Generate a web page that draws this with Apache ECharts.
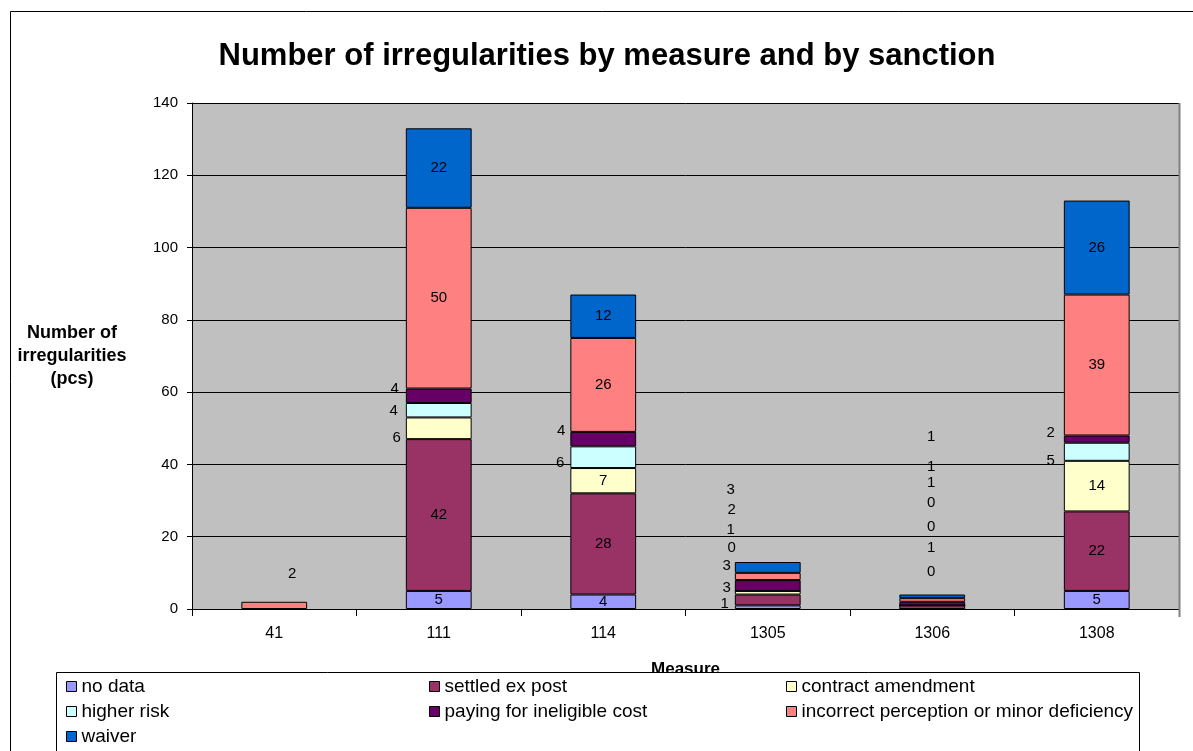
<!DOCTYPE html>
<html>
<head>
<meta charset="utf-8">
<script src="https://cdn.jsdelivr.net/npm/echarts@6/dist/echarts.min.js"></script>
<style>
  html, body { margin: 0; padding: 0; background: #fff; }
  #chart { width: 1193px; height: 751px; }
</style>
</head>
<body>
<div id="chart"></div>
<script>
// Measures on the category axis
const measures = ['41', '111', '114', '1305', '1306', '1308'];

// Irregularities per sanction type (pcs), one value per measure
const noData              = [null, 5, 4, 1, 0, 5];
const settledExPost       = [null, 42, 28, 3, 1, 22];
const contractAmendment   = [null, 6, 7, 1, 0, 14];
const higherRisk          = [null, 4, 6, 0, 0, 5];
const payingIneligible    = [null, 4, 4, 3, 1, 2];
const incorrectPerception = [2, 50, 26, 2, 1, 39];
const waiver              = [null, 22, 12, 3, 1, 26];

const yMax = 140;
const yStep = 20;

// Label nudges (px) for segments too thin to hold their own value
const labelNudge = {
  'no data':                 [null, null, null, [-43, -3], [-1, -37], null],
  'settled ex post':         [null, null, null, [-41, -12], [-1, -59], null],
  'contract amendment':      [null, [-42, 10], null, [-37, -63], [-1, -79], null],
  'higher risk':             [null, [-45, 1], [-43, 6], [-36, -43], [-1, -103], [-46, 9]],
  'paying for ineligible cost': [null, [-44, -7], [-42, -8], [-41, -20], [-1, -121], [-46, -6]],
  'incorrect perception or minor deficiency': [[18, -32], null, null, [-36, -67], [-1, -133], null],
  'waiver':                  [null, null, null, [-37, -78], [-1, -159], null]
};

const seriesDefs = [
  { name: 'no data', data: noData, color: '#9999FF' },
  { name: 'settled ex post', data: settledExPost, color: '#993366' },
  { name: 'contract amendment', data: contractAmendment, color: '#FFFFCC' },
  { name: 'higher risk', data: higherRisk, color: '#CCFFFF' },
  { name: 'paying for ineligible cost', data: payingIneligible, color: '#660066' },
  { name: 'incorrect perception or minor deficiency', data: incorrectPerception, color: '#FF8080' },
  { name: 'waiver', data: waiver, color: '#0066CC' }
];

const FONT = '"Liberation Sans", Arial, sans-serif';

const series = seriesDefs.map(def => ({
  name: def.name,
  type: 'bar',
  stack: 'total',
  barWidth: '40%',
  itemStyle: { color: def.color, borderColor: '#000', borderWidth: 1 },
  label: {
    show: true,
    position: 'inside',
    color: '#000',
    fontSize: 15,
    fontFamily: FONT
  },
  emphasis: { disabled: true },
  data: def.data.map((v, i) => {
    const nudge = labelNudge[def.name][i];
    if (v === null) return null;
    return nudge ? { value: v, label: { offset: nudge } } : v;
  })
}));

const legendCommon = {
  orient: 'vertical',
  top: 676,
  itemWidth: 10,
  itemHeight: 10,
  itemGap: 4,
  padding: 0,
  icon: 'rect',
  selectedMode: false,
  z: 10,
  itemStyle: { borderColor: '#000', borderWidth: 1 },
  textStyle: { fontSize: 19, lineHeight: 21, color: '#000', fontFamily: FONT }
};

const chart = echarts.init(document.getElementById('chart'), null, { renderer: 'canvas' });

chart.setOption({
  animation: false,
  backgroundColor: '#fff',
  textStyle: { fontFamily: FONT },
  grid: {
    left: 192, right: 14, top: 103, bottom: 142,
    show: true,
    backgroundColor: '#C0C0C0',
    borderWidth: 0
  },
  graphic: [
    {
      type: 'rect',
      z: 1,
      shape: { x: 10.5, y: 11.5, width: 1400, height: 1000 },
      style: { fill: null, stroke: '#000', lineWidth: 1 },
      silent: true
    },
    {
      type: 'line',
      z: 1,
      shape: { x1: 1179.5, y1: 103, x2: 1179.5, y2: 617 },
      style: { stroke: '#808080', lineWidth: 2 },
      silent: true
    },
    {
      type: 'text',
      z: 5,
      x: 607,
      y: 56,
      style: {
        text: 'Number of irregularities by measure and by sanction',
        fontSize: 31,
        fontWeight: 'bold',
        fontFamily: FONT,
        fill: '#000',
        textAlign: 'center',
        textVerticalAlign: 'middle'
      },
      silent: true
    },
    {
      type: 'rect',
      z: 3,
      shape: { x: 56.5, y: 672.5, width: 1083, height: 120 },
      style: { fill: '#fff', stroke: '#000', lineWidth: 1 },
      silent: true
    }
  ],
  legend: [
    Object.assign({}, legendCommon, { left: 66, data: ['no data', 'higher risk', 'waiver'] }),
    Object.assign({}, legendCommon, { left: 429, data: ['settled ex post', 'paying for ineligible cost'] }),
    Object.assign({}, legendCommon, { left: 786, data: ['contract amendment', 'incorrect perception or minor deficiency'] })
  ],
  xAxis: {
    type: 'category',
    data: measures,
    name: 'Measure',
    nameLocation: 'middle',
    nameGap: 52,
    nameTextStyle: { fontSize: 17, fontWeight: 'bold', color: '#000', fontFamily: FONT },
    axisLine: { lineStyle: { color: '#000', width: 1 } },
    axisTick: { show: true, length: 7, lineStyle: { color: '#000' } },
    axisLabel: { fontSize: 16, color: '#000', margin: 17, fontFamily: FONT },
    splitLine: { show: false }
  },
  yAxis: {
    type: 'value',
    min: 0,
    max: yMax,
    interval: yStep,
    name: 'Number of\nirregularities\n(pcs)',
    nameLocation: 'middle',
    nameRotate: 0,
    nameGap: 120,
    nameTextStyle: {
      fontSize: 18, fontWeight: 'bold', color: '#000', fontFamily: FONT,
      align: 'center', verticalAlign: 'middle', lineHeight: 23
    },
    axisLine: { show: true, lineStyle: { color: '#000', width: 1 } },
    axisTick: { show: true, length: 5, lineStyle: { color: '#000' } },
    axisLabel: { fontSize: 15, color: '#000', margin: 14, fontFamily: FONT },
    splitLine: { show: true, lineStyle: { color: '#000', width: 1 } }
  },
  series: series
});
</script>
</body>
</html>
